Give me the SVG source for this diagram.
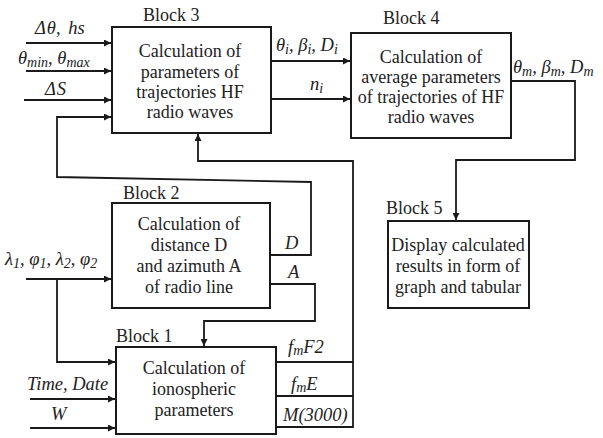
<svg xmlns="http://www.w3.org/2000/svg" width="603" height="438" viewBox="0 0 603 438">
<defs>
<marker id="ah" viewBox="0 0 10 10" refX="10" refY="5" markerWidth="8" markerHeight="7" markerUnits="userSpaceOnUse" orient="auto">
<path d="M0,0 L10,5 L0,10 z" fill="#1a1a1a"/>
</marker>
<style>
.box{fill:#fff;stroke:#1a1a1a;stroke-width:2}
.t{font-size:18px;fill:#222;text-anchor:middle}
.ttl{font-size:18px;fill:#222}
.m{font-size:18.5px;font-style:italic;fill:#222}
.s{font-size:14px}
.c{fill:none;stroke:#1a1a1a;stroke-width:1.8}
.a{marker-end:url(#ah)}
</style>
</defs>
<rect width="603" height="438" fill="#fff"/>

<g id="connectors">
<path class="c a" d="M26,43 H111"/>
<path class="c a" d="M26,71 H111"/>
<path class="c a" d="M24,100 H111"/>
<path class="c a" d="M270,255 H311 V182 L57,177 V117 H111"/>
<path class="c" d="M276,362 H353"/>
<path class="c" d="M276,396 H353"/>
<path class="c a" d="M276,427 H353 V161 H198 V134"/>
<path class="c a" d="M271,61 H350"/>
<path class="c a" d="M271,99 H350"/>
<path class="c a" d="M511,81 H575 V160 H456 V220"/>
<path class="c a" d="M26,279 H111"/>
<path class="c a" d="M57,279 V362 H115"/>
<path class="c a" d="M270,284 H315 V321 H204 V346"/>
<path class="c a" d="M30,399 H115"/>
<path class="c a" d="M30,428 H115"/>
</g>

<g id="labels" font-family="Liberation Serif, DejaVu Serif, serif">
<text class="m" x="35" y="34">Δ<tspan dx="1">θ</tspan>, <tspan dx="3">hs</tspan></text>
<text class="m" x="18" y="64">θ<tspan class="s" dy="3">min</tspan><tspan dy="-3">, θ</tspan><tspan class="s" dy="3">max</tspan></text>
<text class="m" x="45" y="95">Δ<tspan dx="1">S</tspan></text>
<text class="m" x="276" y="51">θ<tspan class="s" dy="3">i</tspan><tspan dy="-3">, β</tspan><tspan class="s" dy="3">i</tspan><tspan dy="-3">, D</tspan><tspan class="s" dy="3">i</tspan></text>
<text class="m" x="310" y="90">n<tspan class="s" dy="3">i</tspan></text>
<text class="m" x="513" y="73">θ<tspan class="s" dy="3">m</tspan><tspan dy="-3">, β</tspan><tspan class="s" dy="3">m</tspan><tspan dy="-3">, D</tspan><tspan class="s" dy="3">m</tspan></text>
<text class="m" x="5" y="265">λ<tspan class="s" dy="3">1</tspan><tspan dy="-3">, φ</tspan><tspan class="s" dy="3">1</tspan><tspan dy="-3">, λ</tspan><tspan class="s" dy="3">2</tspan><tspan dy="-3">, φ</tspan><tspan class="s" dy="3">2</tspan></text>
<text class="m" x="285" y="249">D</text>
<text class="m" x="288" y="278">A</text>
<text class="m" x="288" y="353">f<tspan class="s" dy="2">m</tspan><tspan dy="-2">F2</tspan></text>
<text class="m" x="291" y="390">f<tspan class="s" dy="2">m</tspan><tspan dy="-2">E</tspan></text>
<text class="m" x="283" y="421">M(3000)</text>
<text class="m" x="27" y="390">Time, Date</text>
<text class="m" x="51" y="420">W</text>
</g>

<g id="block3" font-family="Liberation Serif, DejaVu Serif, serif">
<rect class="box" x="112" y="27" width="159" height="106"/>
<text class="ttl" x="143" y="21">Block 3</text>
<text class="t" x="190" y="57">Calculation of</text>
<text class="t" x="190" y="78">parameters of</text>
<text class="t" x="190" y="98">trajectories HF</text>
<text class="t" x="190" y="118">radio waves</text>
</g>

<g id="block4" font-family="Liberation Serif, DejaVu Serif, serif">
<rect class="box" x="351" y="33" width="160" height="105"/>
<text class="ttl" x="383" y="24">Block 4</text>
<text class="t" x="431" y="63">Calculation of</text>
<text class="t" x="431" y="83">average parameters</text>
<text class="t" x="431" y="103">of trajectories of HF</text>
<text class="t" x="431" y="123">radio waves</text>
</g>

<g id="block2" font-family="Liberation Serif, DejaVu Serif, serif">
<rect class="box" x="112" y="203" width="158" height="105"/>
<text class="ttl" x="123" y="199">Block 2</text>
<text class="t" x="189" y="230">Calculation of</text>
<text class="t" x="189" y="251">distance D</text>
<text class="t" x="189" y="272">and azimuth A</text>
<text class="t" x="189" y="293">of radio line</text>
</g>

<g id="block1" font-family="Liberation Serif, DejaVu Serif, serif">
<rect class="box" x="116" y="347" width="160" height="87"/>
<text class="ttl" x="116" y="342">Block 1</text>
<text class="t" x="194" y="374">Calculation of</text>
<text class="t" x="194" y="395">ionospheric</text>
<text class="t" x="194" y="416">parameters</text>
</g>

<g id="block5" font-family="Liberation Serif, DejaVu Serif, serif">
<rect class="box" x="388" y="221" width="141" height="87"/>
<text class="ttl" x="386" y="214">Block 5</text>
<text class="t" x="458" y="251">Display calculated</text>
<text class="t" x="458" y="272">results in form of</text>
<text class="t" x="458" y="293">graph and tabular</text>
</g>
</svg>
